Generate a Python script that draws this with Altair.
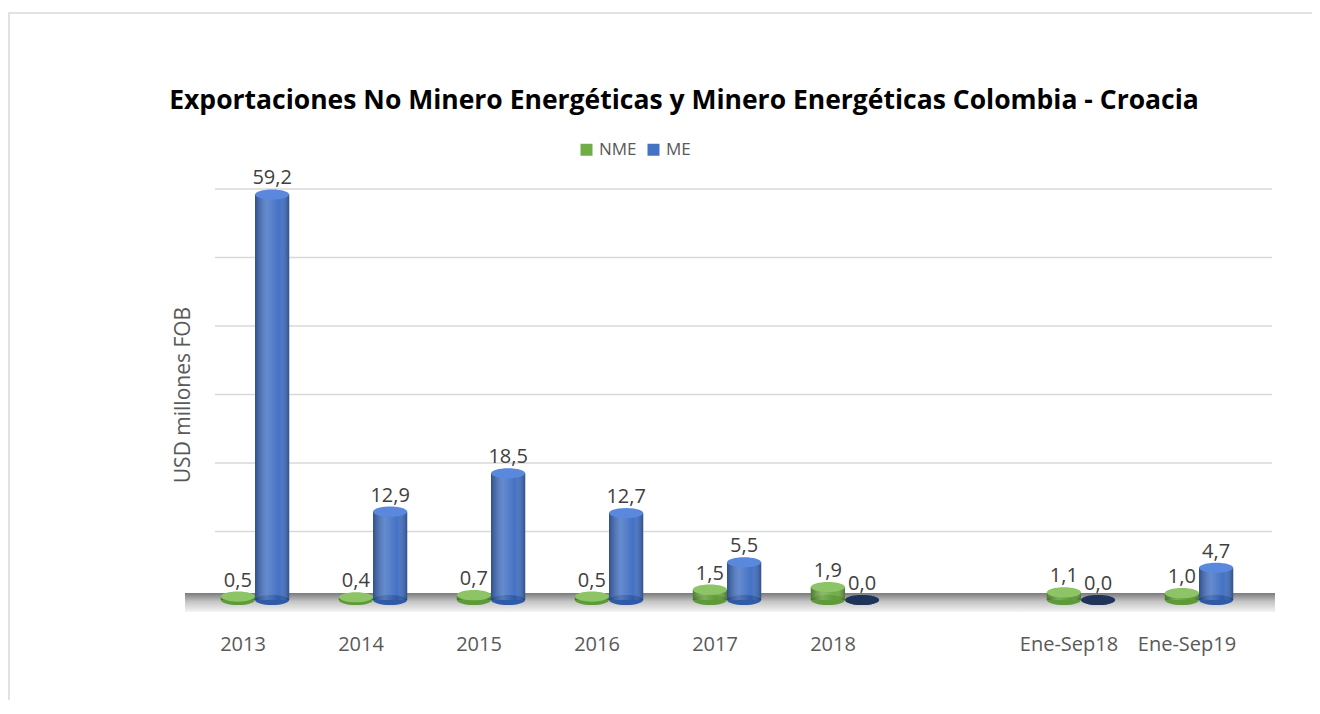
import altair as alt
import pandas as pd

# ---- data ----
categories = ["2013", "2014", "2015", "2016", "2017", "2018", " ", "Ene-Sep18", "Ene-Sep19"]
series = ["NME", "ME"]
nme_values = [0.5, 0.4, 0.7, 0.5, 1.5, 1.9, None, 1.1, 1.0]
me_values = [59.2, 12.9, 18.5, 12.7, 5.5, 0.0, None, 0.0, 4.7]
grid_values = [0, 10, 20, 30, 40, 50, 60]
title_text = "Exportaciones No Minero Energéticas y Minero Energéticas Colombia - Croacia"
y_title = "USD millones FOB"

rows = []
for c, n, m in zip(categories, nme_values, me_values):
    rows.append({"cat": c, "serie": "NME", "value": n})
    rows.append({"cat": c, "serie": "ME", "value": m})
df = pd.DataFrame(rows)
grid_df = pd.DataFrame({"value": grid_values})
one = pd.DataFrame({"k": [0]})
title_df = pd.DataFrame({"t": [title_text]})

FONT = "Open Sans"
GREEN = "#70AD47"
BLUE = "#4472C4"

x_enc = alt.X(
    "cat:N", sort=categories,
    scale=alt.Scale(domain=categories, paddingInner=0.42, paddingOuter=0.21),
    axis=alt.Axis(title=None, labelAngle=0, labelFontSize=20, labelFont=FONT,
                  labelColor="#595959", labelPadding=34, domain=False, ticks=False,
                  grid=False, labelOffset=-12),
)
y_scale = alt.Scale(domain=[0, 60], nice=False)
y_enc = alt.Y(
    "value:Q", scale=y_scale,
    axis=alt.Axis(title=y_title, labels=False, ticks=False, domain=False, grid=False,
                  titleFont=FONT, titleFontSize=21, titleFontWeight="normal",
                  titleColor="#595959", titlePadding=3),
)
xo_enc = alt.XOffset("serie:N", sort=series, scale=alt.Scale(paddingInner=0, paddingOuter=0))

ELLIPSE = "M -1 0 A 1 0.3 0 1 0 1 0 A 1 0.3 0 1 0 -1 0 Z"

border = alt.Chart(one).mark_rect(fill=None, stroke="#d9d9d9", strokeWidth=1.5).encode(
    x=alt.value(-187), x2=alt.value(1200), y=alt.value(-176), y2=alt.value(600)
)

title = alt.Chart(title_df).mark_text(
    font=FONT, fontSize=26.5, fontWeight="bold", color="#000000",
    align="center", baseline="alphabetic"
).encode(text="t:N", x=alt.value(488), y=alt.value(-80))

grid = alt.Chart(grid_df).mark_rule(color="#d9d9d9", strokeWidth=1.5).encode(
    y=alt.Y("value:Q", scale=y_scale), x=alt.value(19), x2=alt.value(1076)
)

floor = alt.Chart(one).mark_rect(
    fill=alt.Gradient(
        gradient="linear", x1=0, x2=0, y1=0, y2=1,
        stops=[alt.GradientStop(offset=0, color="#7a7a7a"),
               alt.GradientStop(offset=0.45, color="#c4c4c4"),
               alt.GradientStop(offset=1, color="#f4f4f4")],
    )
).encode(x=alt.value(-11), x2=alt.value(1079), y=alt.value(404), y2=alt.value(423))

base = alt.Chart(df).transform_filter("isValid(datum.value)")

bars = base.mark_bar().encode(
    x=x_enc, xOffset=xo_enc, y=y_enc,
    color=alt.Color("serie:N", sort=series,
                    scale=alt.Scale(domain=series, range=[GREEN, BLUE]),
                    legend=alt.Legend(title=None, orient="none", direction="horizontal",
                                      legendX=382, legendY=-48, symbolType="square",
                                      symbolSize=144, labelFont=FONT, labelFontSize=17,
                                      labelColor="#595959", columnPadding=8,
                                      labelOffset=4, symbolStrokeWidth=0)),
)

shade = base.mark_bar(
    fill=alt.Gradient(
        gradient="linear", x1=0, x2=1, y1=0, y2=0,
        stops=[alt.GradientStop(offset=0, color="rgba(0,0,0,0.30)"),
               alt.GradientStop(offset=0.35, color="rgba(255,255,255,0.18)"),
               alt.GradientStop(offset=0.7, color="rgba(255,255,255,0.0)"),
               alt.GradientStop(offset=1, color="rgba(0,0,0,0.30)")],
    )
).encode(x=x_enc, xOffset=xo_enc, y=y_enc)

bottoms = base.transform_calculate(
    zero="0",
    col="datum.serie === 'NME' ? '#5e9a37' : '#2f5aa8'",
).mark_point(shape=ELLIPSE, filled=True, size=1156, strokeWidth=0, opacity=1).encode(
    x=x_enc, xOffset=xo_enc, y=alt.Y("zero:Q", scale=y_scale),
    fill=alt.Fill("col:N", scale=None),
)

caps = base.transform_calculate(
    col="datum.value == 0 ? '#1f3458' : (datum.serie === 'NME' ? '#8cc466' : '#5a88dc')"
).mark_point(shape=ELLIPSE, filled=True, size=1156, strokeWidth=0, opacity=1).encode(
    x=x_enc, xOffset=xo_enc, y=y_enc,
    fill=alt.Fill("col:N", scale=None),
)

labels = base.transform_calculate(
    label="replace(format(datum.value, '.1f'), '.', ',')"
).mark_text(font=FONT, fontSize=20, color="#404040", baseline="bottom", dy=-6).encode(
    x=x_enc, xOffset=xo_enc, y=y_enc, text="label:N"
)

chart = alt.layer(border, title, grid, floor, bars, bottoms, shade, caps, labels).properties(
    width=1062, height=411,
    autosize="none",
    padding={"left": 188, "top": 181, "right": 54, "bottom": 100},
).configure_view(stroke=None)

chart.save("out.html", embed_options={"renderer": "svg", "actions": False})
